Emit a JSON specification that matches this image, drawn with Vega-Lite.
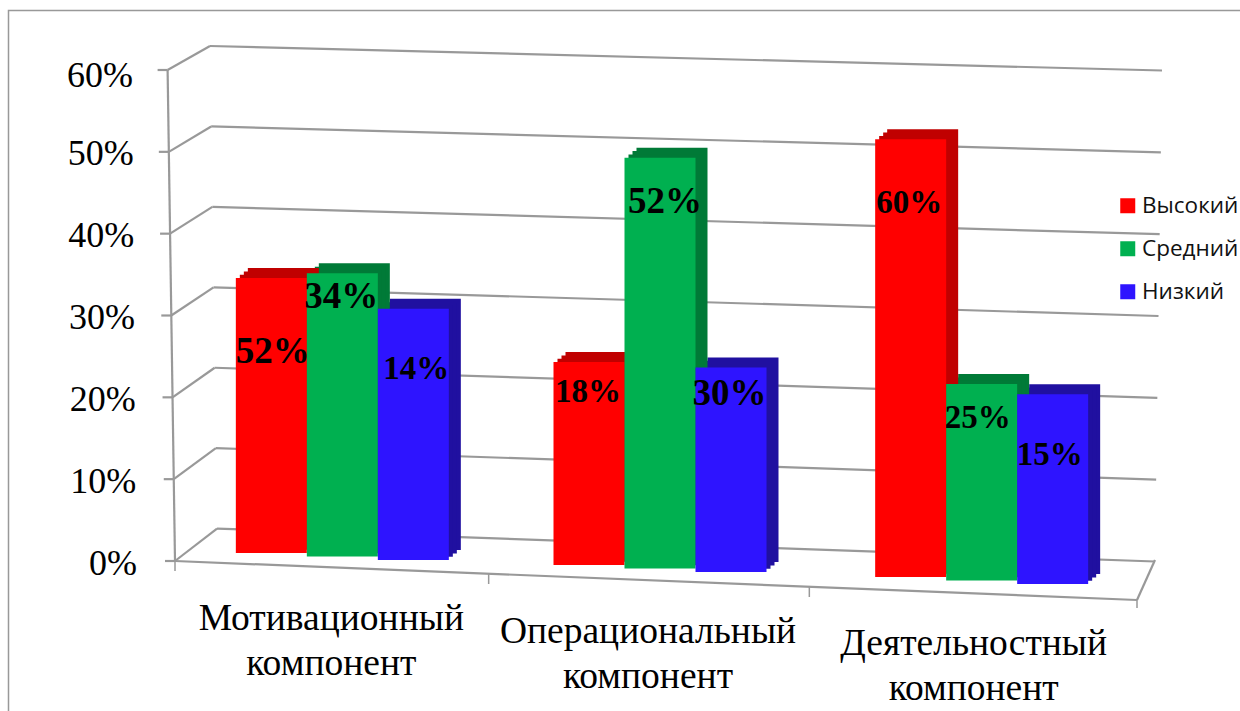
{"$schema":"https://vega.github.io/schema/vega-lite/v6.json","width":1240,"height":711,"autosize":"none","padding":{"left":8.5,"top":10.5,"right":0,"bottom":0},"background":"white","view":{"stroke":"#999999","strokeWidth":1.5},"params":[{"name":"compNames","value":["Мотивационный компонент","Операциональный компонент","Деятельностный компонент"]},{"name":"levelNames","value":["Высокий","Средний","Низкий"]}],"data":{"values":[{"component":"Мотивационный компонент","level":"Высокий","value":33.6,"label":"52%"},{"component":"Мотивационный компонент","level":"Средний","value":34.6,"label":"34%"},{"component":"Мотивационный компонент","level":"Низкий","value":30.7,"label":"14%"},{"component":"Операциональный компонент","level":"Высокий","value":24.8,"label":"18%"},{"component":"Операциональный компонент","level":"Средний","value":50.2,"label":"52%"},{"component":"Операциональный компонент","level":"Низкий","value":25,"label":"30%"},{"component":"Деятельностный компонент","level":"Высокий","value":53.5,"label":"60%"},{"component":"Деятельностный компонент","level":"Средний","value":24,"label":"25%"},{"component":"Деятельностный компонент","level":"Низкий","value":23.2,"label":"15%"}]},"layer":[{"data":{"values":[{"tick":0,"tickLabel":"0%"},{"tick":10,"tickLabel":"10%"},{"tick":20,"tickLabel":"20%"},{"tick":30,"tickLabel":"30%"},{"tick":40,"tickLabel":"40%"},{"tick":50,"tickLabel":"50%"},{"tick":60,"tickLabel":"60%"}]},"layer":[{"mark":{"type":"rule","color":"#999999","strokeWidth":2.2,"xOffset":{"expr":"35+(60-datum.tick)*0.117"},"x2Offset":{"expr":"178.33+datum.tick*0.117"},"yOffset":{"expr":"-24-(60-datum.tick)*0.14"},"y2Offset":0.5},"encoding":{"x":{"datum":"Мотивационный компонент","type":"nominal","bandPosition":0,"axis":null},"x2":{"datum":"Деятельностный компонент"},"y":{"field":"tick","type":"quantitative","axis":null},"y2":{"field":"tick"}}},{"mark":{"type":"rule","color":"#999999","strokeWidth":2.2,"xOffset":{"expr":"-7.4*datum.tick/60"},"x2Offset":{"expr":"-125.33+(60-datum.tick)*0.117"},"yOffset":0,"y2Offset":{"expr":"-24-(60-datum.tick)*0.14"}},"encoding":{"x":{"datum":"Мотивационный компонент","type":"nominal","bandPosition":0,"axis":null},"x2":{"datum":"Мотивационный компонент"},"y":{"field":"tick","type":"quantitative","axis":null},"y2":{"field":"tick"}}},{"mark":{"type":"rule","color":"#999999","strokeWidth":2.2,"xOffset":{"expr":"-7.4*datum.tick/60-10"},"x2Offset":{"expr":"-160.33-7.4*datum.tick/60"}},"encoding":{"x":{"datum":"Мотивационный компонент","type":"nominal","bandPosition":0,"axis":null},"x2":{"datum":"Мотивационный компонент"},"y":{"field":"tick","type":"quantitative","axis":null},"y2":{"field":"tick"}}},{"mark":{"type":"text","font":"Liberation Serif","fontSize":36,"color":"#000000","align":"right","baseline":"middle","xOffset":{"expr":"-42+(60-datum.tick)*0.067"},"yOffset":{"expr":"datum.tick==60?6:2.5"}},"encoding":{"x":{"datum":"Мотивационный компонент","type":"nominal","bandPosition":0,"axis":null},"y":{"field":"tick","type":"quantitative","axis":null},"text":{"field":"tickLabel"}}}]},{"data":{"values":[{"tick":0}]},"layer":[{"mark":{"type":"rule","color":"#999999","strokeWidth":2.2,"xOffset":0,"x2Offset":-167.73},"encoding":{"x":{"datum":"Мотивационный компонент","type":"nominal","bandPosition":0,"axis":null},"x2":{"datum":"Мотивационный компонент"},"y":{"datum":0,"type":"quantitative","axis":null},"y2":{"datum":60}}},{"mark":{"type":"rule","color":"#999999","strokeWidth":2.2,"x2Offset":160.33,"y2Offset":39},"encoding":{"x":{"datum":"Мотивационный компонент","type":"nominal","bandPosition":0,"axis":null},"x2":{"datum":"Деятельностный компонент"},"y":{"datum":0,"type":"quantitative","axis":null},"y2":{"datum":0}}},{"mark":{"type":"rule","color":"#999999","strokeWidth":2.2,"xOffset":320.67,"x2Offset":178.33,"yOffset":39,"y2Offset":-1},"encoding":{"x":{"datum":"Деятельностный компонент","type":"nominal","bandPosition":0,"axis":null},"x2":{"datum":"Деятельностный компонент"},"y":{"datum":0,"type":"quantitative","axis":null},"y2":{"datum":0}}},{"mark":{"type":"rule","color":"#999999","strokeWidth":1.5,"xOffset":320.67,"x2Offset":160.33,"yOffset":39,"y2Offset":47},"encoding":{"x":{"datum":"Деятельностный компонент","type":"nominal","bandPosition":0,"axis":null},"x2":{"datum":"Деятельностный компонент"},"y":{"datum":0,"type":"quantitative","axis":null},"y2":{"datum":0}}}]},{"data":{"values":[{"component":"Мотивационный компонент"},{"component":"Операциональный компонент"},{"component":"Деятельностный компонент"}]},"layer":[{"mark":{"type":"rule","color":"#999999","strokeWidth":1.5,"xOffset":{"expr":"[0,-7,-7][indexof(compNames,datum.component)]"},"x2Offset":{"expr":"[-160.33,-167.33,-167.33][indexof(compNames,datum.component)]"},"yOffset":{"expr":"indexof(compNames,datum.component)*13"},"y2Offset":{"expr":"indexof(compNames,datum.component)*13+10"}},"encoding":{"x":{"field":"component","type":"nominal","bandPosition":0,"axis":null},"x2":{"field":"component"},"y":{"datum":0,"type":"quantitative","axis":null},"y2":{"datum":0}}},{"mark":{"type":"text","font":"Liberation Serif","fontSize":37.5,"color":"#000000","align":"center","baseline":"top","lineBreak":" ","lineHeight":45,"xOffset":{"expr":"[-4,-8,-3][indexof(compNames,datum.component)]"},"yOffset":{"expr":"[39,52,64][indexof(compNames,datum.component)]"}},"encoding":{"x":{"field":"component","type":"nominal","axis":null},"y":{"datum":0,"type":"quantitative","axis":null},"text":{"field":"component"}}}]},{"transform":[{"filter":"datum.level=='Низкий'"}],"layer":[{"mark":{"type":"bar","width":71,"color":"#2010A0","xOffset":{"expr":"(indexof(levelNames,datum.level)-1)*71+[7,4,5][indexof(compNames,datum.component)]+12"},"yOffset":{"expr":"indexof(compNames,datum.component)*12+indexof(levelNames,datum.level)*3.5-8-10"},"y2Offset":{"expr":"indexof(compNames,datum.component)*12+indexof(levelNames,datum.level)*3.5-8-10"}}},{"mark":{"type":"bar","width":71,"color":"#2010A0","xOffset":{"expr":"(indexof(levelNames,datum.level)-1)*71+[7,4,5][indexof(compNames,datum.component)]+8"},"yOffset":{"expr":"indexof(compNames,datum.component)*12+indexof(levelNames,datum.level)*3.5-8-6.6"},"y2Offset":{"expr":"indexof(compNames,datum.component)*12+indexof(levelNames,datum.level)*3.5-8-6.6"}}},{"mark":{"type":"bar","width":71,"color":"#2010A0","xOffset":{"expr":"(indexof(levelNames,datum.level)-1)*71+[7,4,5][indexof(compNames,datum.component)]+4"},"yOffset":{"expr":"indexof(compNames,datum.component)*12+indexof(levelNames,datum.level)*3.5-8-3.3"},"y2Offset":{"expr":"indexof(compNames,datum.component)*12+indexof(levelNames,datum.level)*3.5-8-3.3"}}}],"encoding":{"x":{"field":"component","type":"nominal","axis":null},"y":{"field":"value","type":"quantitative","stack":null,"axis":null},"y2":{"datum":0}}},{"transform":[{"filter":"datum.level=='Средний'"}],"layer":[{"mark":{"type":"bar","width":71,"color":"#007A37","xOffset":{"expr":"(indexof(levelNames,datum.level)-1)*71+[7,4,5][indexof(compNames,datum.component)]+12"},"yOffset":{"expr":"indexof(compNames,datum.component)*12+indexof(levelNames,datum.level)*3.5-8-10"},"y2Offset":{"expr":"indexof(compNames,datum.component)*12+indexof(levelNames,datum.level)*3.5-8-10"}}},{"mark":{"type":"bar","width":71,"color":"#007A37","xOffset":{"expr":"(indexof(levelNames,datum.level)-1)*71+[7,4,5][indexof(compNames,datum.component)]+8"},"yOffset":{"expr":"indexof(compNames,datum.component)*12+indexof(levelNames,datum.level)*3.5-8-6.6"},"y2Offset":{"expr":"indexof(compNames,datum.component)*12+indexof(levelNames,datum.level)*3.5-8-6.6"}}},{"mark":{"type":"bar","width":71,"color":"#007A37","xOffset":{"expr":"(indexof(levelNames,datum.level)-1)*71+[7,4,5][indexof(compNames,datum.component)]+4"},"yOffset":{"expr":"indexof(compNames,datum.component)*12+indexof(levelNames,datum.level)*3.5-8-3.3"},"y2Offset":{"expr":"indexof(compNames,datum.component)*12+indexof(levelNames,datum.level)*3.5-8-3.3"}}}],"encoding":{"x":{"field":"component","type":"nominal","axis":null},"y":{"field":"value","type":"quantitative","stack":null,"axis":null},"y2":{"datum":0}}},{"transform":[{"filter":"datum.level=='Высокий'"}],"layer":[{"mark":{"type":"bar","width":71,"color":"#C00000","xOffset":{"expr":"(indexof(levelNames,datum.level)-1)*71+[7,4,5][indexof(compNames,datum.component)]+12"},"yOffset":{"expr":"indexof(compNames,datum.component)*12+indexof(levelNames,datum.level)*3.5-8-10"},"y2Offset":{"expr":"indexof(compNames,datum.component)*12+indexof(levelNames,datum.level)*3.5-8-10"}}},{"mark":{"type":"bar","width":71,"color":"#C00000","xOffset":{"expr":"(indexof(levelNames,datum.level)-1)*71+[7,4,5][indexof(compNames,datum.component)]+8"},"yOffset":{"expr":"indexof(compNames,datum.component)*12+indexof(levelNames,datum.level)*3.5-8-6.6"},"y2Offset":{"expr":"indexof(compNames,datum.component)*12+indexof(levelNames,datum.level)*3.5-8-6.6"}}},{"mark":{"type":"bar","width":71,"color":"#C00000","xOffset":{"expr":"(indexof(levelNames,datum.level)-1)*71+[7,4,5][indexof(compNames,datum.component)]+4"},"yOffset":{"expr":"indexof(compNames,datum.component)*12+indexof(levelNames,datum.level)*3.5-8-3.3"},"y2Offset":{"expr":"indexof(compNames,datum.component)*12+indexof(levelNames,datum.level)*3.5-8-3.3"}}}],"encoding":{"x":{"field":"component","type":"nominal","axis":null},"y":{"field":"value","type":"quantitative","stack":null,"axis":null},"y2":{"datum":0}}},{"mark":{"type":"bar","width":71,"xOffset":{"expr":"(indexof(levelNames,datum.level)-1)*71+[7,4,5][indexof(compNames,datum.component)]"},"yOffset":{"expr":"indexof(compNames,datum.component)*12+indexof(levelNames,datum.level)*3.5-8"},"y2Offset":{"expr":"indexof(compNames,datum.component)*12+indexof(levelNames,datum.level)*3.5-8"}},"encoding":{"x":{"field":"component","type":"nominal","sort":["Мотивационный компонент","Операциональный компонент","Деятельностный компонент"],"scale":{"domain":["Мотивационный компонент","Операциональный компонент","Деятельностный компонент"],"range":[166.5,1128.5],"paddingInner":0,"paddingOuter":0},"axis":null},"y":{"field":"value","type":"quantitative","stack":null,"scale":{"domain":[0,60],"range":[550.5,59.5],"nice":false},"axis":null},"y2":{"datum":0},"color":{"field":"level","type":"nominal","sort":["Высокий","Средний","Низкий"],"scale":{"domain":["Высокий","Средний","Низкий"],"range":["#FF0000","#00B050","#2E14FF"]},"legend":{"orient":"none","legendX":1108,"legendY":184,"title":null,"symbolType":"square","symbolSize":225,"symbolStrokeWidth":0,"labelFont":"Open Sans","labelFontSize":22.5,"labelColor":"#111111","labelOffset":3,"rowPadding":20,"padding":0}}}},{"transform":[{"filter":"indexof(['14%','18%','25%','15%','60%'],datum.label)>=0"}],"mark":{"type":"text","font":"Liberation Serif","fontWeight":"bold","fontSize":33,"color":"#000000","baseline":"middle","xOffset":{"expr":"(indexof(levelNames,datum.level)-1)*71+[7,4,5][indexof(compNames,datum.component)]+[[1.5,-1,3],[-1,5,-1.5],[-1.5,-4,-3]][indexof(compNames,datum.component)][indexof(levelNames,datum.level)]"},"yOffset":{"expr":"indexof(compNames,datum.component)*12+indexof(levelNames,datum.level)*3.5-8+[[74,24,60],[30,44,27],[64,34,61]][indexof(compNames,datum.component)][indexof(levelNames,datum.level)]"}},"encoding":{"x":{"field":"component","type":"nominal","axis":null},"y":{"field":"value","type":"quantitative","axis":null},"text":{"field":"label"}}},{"transform":[{"filter":"indexof(['14%','18%','25%','15%','60%'],datum.label)<0"}],"mark":{"type":"text","font":"Liberation Serif","fontWeight":"bold","fontSize":37,"color":"#000000","baseline":"middle","xOffset":{"expr":"(indexof(levelNames,datum.level)-1)*71+[7,4,5][indexof(compNames,datum.component)]+[[1.5,-1,3],[-1,5,-1.5],[-1.5,-4,-3]][indexof(compNames,datum.component)][indexof(levelNames,datum.level)]"},"yOffset":{"expr":"indexof(compNames,datum.component)*12+indexof(levelNames,datum.level)*3.5-8+[[74,24,60],[30,44,27],[64,34,61]][indexof(compNames,datum.component)][indexof(levelNames,datum.level)]"}},"encoding":{"x":{"field":"component","type":"nominal","axis":null},"y":{"field":"value","type":"quantitative","axis":null},"text":{"field":"label"}}}]}
